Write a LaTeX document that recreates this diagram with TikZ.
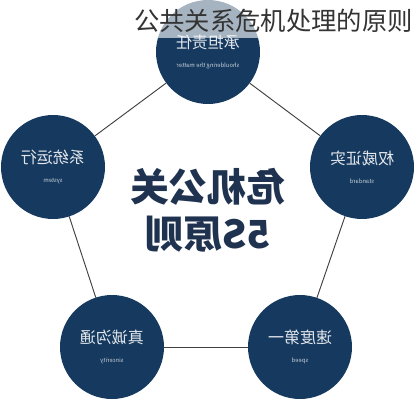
\documentclass[tikz,border=0pt]{standalone}
\usepackage{fontspec}
\usepackage{graphicx}
\usepackage{xcolor}
\newfontfamily\cjk{Noto Sans CJK SC}
\definecolor{navy}{HTML}{163A5F}
\definecolor{corenavy}{HTML}{1F3350}
\newcommand{\mirtext}[1]{\reflectbox{#1}}
\newcommand{\ensub}[1]{{\cjk\fontsize{4.4}{5}\selectfont\color{white!75!navy}\reflectbox{#1}}}

\begin{document}
\begin{tikzpicture}
			[line cap=round,line join=round,x=0.75pt,y=-0.75pt,
			pcircle/.style={circle,fill=navy,minimum size=78pt,inner sep=0pt,align=center,text=white!88!navy,font=\cjk\fontsize{12}{13}\selectfont},
			link/.style={draw=black!75,line width=0.7pt}]
			\useasboundingbox (0,0) rectangle (415,400);
			% the five principles, drawn mirrored as in the picture
			\node[pcircle] (duty) at (208,52) {\mirtext{承担责任}\\[1pt]\ensub{shouldering the matter}};
			\node[pcircle] (system) at (53,167) {\mirtext{系统运行}\\[1pt]\ensub{system}};
			\node[pcircle] (proof) at (362,167) {\mirtext{权威证实}\\[1pt]\ensub{standard}};
			\node[pcircle] (sincere) at (112,347) {\mirtext{真诚沟通}\\[1pt]\ensub{sincerity}};
			\node[pcircle] (speed) at (300,347) {\mirtext{速度第一}\\[1pt]\ensub{speed}};
			\draw [link] (duty) -- (system);
			\draw [link] (duty) -- (proof);
			\draw [link] (system) -- (sincere);
			\draw [link] (proof) -- (speed);
			\draw [link] (sincere) -- (speed);
			\node[font=\cjk\bfseries\fontsize{29}{35}\selectfont,text=corenavy,align=center] (core) at (208,210) {\mirtext{危机公关}\\\mirtext{5S原则}};
			% title band
			\fill [white,opacity=0.62] (130,0) rectangle (415,38);
			\node[font=\cjk\fontsize{19}{20}\selectfont,text=black!80,anchor=east,inner sep=0pt] (title) at (413,21) {公共关系危机处理的原则};
		\end{tikzpicture}
\end{document}
